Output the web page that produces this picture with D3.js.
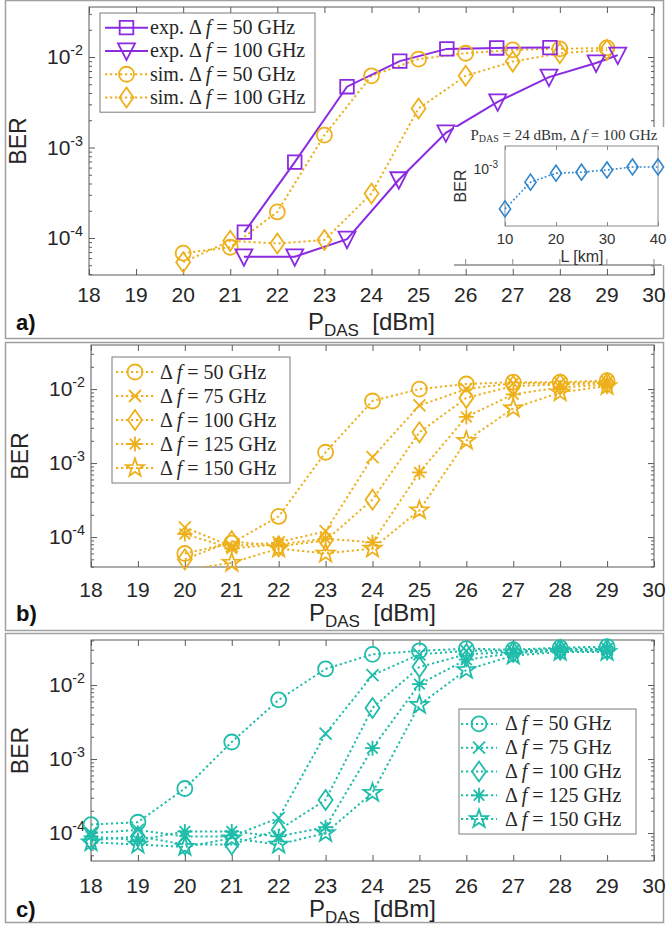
<!DOCTYPE html>
<html><head><meta charset="utf-8">
<script src="https://cdn.jsdelivr.net/npm/d3@7"></script>
<style>body{margin:0;background:#fff}svg{display:block}</style>
</head><body><div id="chart"></div>
<script>
// ---------------- DATA ----------------
const pdasTicks = [18,19,20,21,22,23,24,25,26,27,28,29,30];
const berMajorTicks = [1e-4, 1e-3, 1e-2];
const berTickExp = ["-4", "-3", "-2"];

// panel a
const aExp50X  = [21.3, 22.37, 23.48, 24.6, 25.6, 26.66, 27.79];
const aExp50Y  = [1.16e-4, 6.9e-4, 4.7e-3, 9.0e-3, 1.23e-2, 1.26e-2, 1.27e-2];
const aExp100X = [21.29, 22.37, 23.48, 24.58, 25.58, 26.68, 27.77, 28.77, 29.23];
const aExp100Y = [6.2e-5, 6.2e-5, 9.7e-5, 4.4e-4, 1.45e-3, 3.2e-3, 6.0e-3, 8.6e-3, 1.05e-2];
const aSimX    = [20, 21, 22, 23, 24, 25, 26, 27, 28, 29];
const aSim50Y  = [6.8e-5, 7.9e-5, 1.94e-4, 1.37e-3, 6.2e-3, 9.5e-3, 1.1e-2, 1.2e-2, 1.23e-2, 1.26e-2];
const aSim100Y = [5.4e-5, 9.3e-5, 8.7e-5, 9.5e-5, 3.1e-4, 2.7e-3, 6.2e-3, 8.9e-3, 1.1e-2, 1.2e-2];
const aLegendPre  = ["exp. Δ", "exp. Δ", "sim. Δ", "sim. Δ"];
const aLegendPost = [" = 50 GHz", " = 100 GHz", " = 50 GHz", " = 100 GHz"];

// inset
const insetL   = [10, 15, 20, 25, 30, 35, 40];
const insetBER = [4.0e-4, 7.4e-4, 9.1e-4, 9.3e-4, 9.8e-4, 1.05e-3, 1.05e-3];
const insetXTicks = [10, 20, 30, 40];

// panel b
const bX    = [20, 21, 22, 23, 24, 25, 26, 27, 28, 29];
const b50   = [6.0e-5, 8.3e-5, 1.9e-4, 1.4e-3, 6.9e-3, 1.0e-2, 1.17e-2, 1.24e-2, 1.24e-2, 1.3e-2];
const b75   = [1.35e-4, 7.5e-5, 8.5e-5, 1.2e-4, 1.2e-3, 6.0e-3, 1.0e-2, 1.2e-2, 1.2e-2, 1.25e-2];
const b100  = [5.0e-5, 8.8e-5, 7.5e-5, 9.0e-5, 3.2e-4, 2.6e-3, 7.6e-3, 1.1e-2, 1.15e-2, 1.2e-2];
const b125  = [1.1e-4, 7.0e-5, 8.0e-5, 9.5e-5, 8.5e-5, 7.5e-4, 4.2e-3, 8.5e-3, 1.05e-2, 1.15e-2];
const b150  = [3.6e-5, 4.5e-5, 7.0e-5, 6.0e-5, 7.0e-5, 2.3e-4, 2.0e-3, 5.5e-3, 9.0e-3, 1.1e-2];

// panel c
const cX    = [18, 19, 20, 21, 22, 23, 24, 25, 26, 27, 28, 29];
const c50   = [1.3e-4, 1.4e-4, 4.0e-4, 1.7e-3, 6.3e-3, 1.65e-2, 2.6e-2, 2.9e-2, 3.1e-2, 3.0e-2, 3.2e-2, 3.3e-2];
const c75   = [1.0e-4, 1.1e-4, 9.0e-5, 9.0e-5, 1.6e-4, 2.2e-3, 1.36e-2, 2.6e-2, 2.9e-2, 2.9e-2, 3.1e-2, 3.1e-2];
const c100  = [8.0e-5, 9.0e-5, 7.0e-5, 7.0e-5, 1.1e-4, 2.8e-4, 4.9e-3, 1.75e-2, 2.6e-2, 2.8e-2, 3.0e-2, 3.0e-2];
const c125  = [9.0e-5, 8.0e-5, 1.05e-4, 1.05e-4, 9.0e-5, 1.2e-4, 1.4e-3, 1.03e-2, 2.2e-2, 2.7e-2, 2.9e-2, 2.9e-2];
const c150  = [7.5e-5, 7.0e-5, 6.5e-5, 8.5e-5, 7.0e-5, 1.0e-4, 3.5e-4, 5.4e-3, 1.6e-2, 2.5e-2, 2.8e-2, 2.8e-2];

const dfLegend = ["50", "75", "100", "125", "150"];
const dfMarkers = ["circle", "cross", "diamond", "asterisk", "star"];

// ---------------- STYLE ----------------
const PURPLE = "#8a2be2", ORANGE = "#eeb01a", TEAL = "#1fbcaa", BLUE = "#2f86cc";
const AXIS = "#5a5a5a", FRAME = "#a0a0a0", TXT = "#262626";
const SANS = "'Liberation Sans', Arial, Helvetica, sans-serif";
const SERIF = "'Liberation Serif', 'Times New Roman', serif";
const DOTS = "2.2,2.8";

const W = 668, H = 931;
const svg = d3.select("#chart").append("svg").attr("width", W).attr("height", H)
  .style("font-family", SANS);
svg.append("rect").attr("width", W).attr("height", H).attr("fill", "#fff");

function markerPath(type, k = 1) {
  switch (type) {
    case "circle": { const r = 7.5 * k; return `M${r},0A${r},${r} 0 1,1 ${-r},0A${r},${r} 0 1,1 ${r},0Z`; }
    case "square": { const s = 6.8 * k; return `M${-s},${-s}H${s}V${s}H${-s}Z`; }
    case "triDown": { const s = 8.5 * k; return `M${-s},${-7.5*k}H${s}L0,${9*k}Z`; }
    case "diamond": { const a = 7 * k, b = 10 * k; return `M0,${-b}L${a},0L0,${b}L${-a},0Z`; }
    case "cross": { const s = 6 * k; return `M${-s},${-s}L${s},${s}M${-s},${s}L${s},${-s}`; }
    case "asterisk": { const s = 7.5 * k, d = s * 0.707; return `M${-s},0H${s}M0,${-s}V${s}M${-d},${-d}L${d},${d}M${-d},${d}L${d},${-d}`; }
    case "star": {
      const R = 9.5 * k, r = 3.8 * k; let p = "";
      for (let i = 0; i < 10; i++) {
        const ang = -Math.PI / 2 + i * Math.PI / 5, rr = i % 2 ? r : R;
        p += (i ? "L" : "M") + (rr * Math.cos(ang)).toFixed(2) + "," + (rr * Math.sin(ang)).toFixed(2);
      }
      return p + "Z";
    }
  }
}

function drawSeries(P, xs, ys, color, marker, dashed, lw = 2) {
  const { x, y } = P;
  const pts = xs.map((v, i) => [v, ys[i]]);
  const line = d3.line().x(d => x(d[0])).y(d => y(d[1]));
  P.lines.append("path").attr("d", line(pts)).attr("fill", "none").attr("stroke", color)
    .attr("stroke-width", lw).attr("stroke-dasharray", dashed ? DOTS : null);
  const dom = y.domain();
  P.marks.selectAll(null).data(pts.filter(d => d[1] >= dom[0] && d[1] <= dom[1])).enter().append("path")
    .attr("d", markerPath(marker)).attr("transform", d => `translate(${x(d[0])},${y(d[1])})`)
    .attr("fill", "none").attr("stroke", color).attr("stroke-width", 1.8);
}

function yTickLabel(g, xPos, yPos, exp, size = 21) {
  const t = g.append("text").attr("x", xPos).attr("y", yPos + 7).attr("text-anchor", "end")
    .attr("fill", TXT).attr("font-size", size);
  t.append("tspan").text("10");
  t.append("tspan").attr("dy", -9).attr("font-size", size * 0.68).text(exp);
}

function pdasLabel(g, cx, baseline) {
  const t = g.append("text").attr("x", cx).attr("y", baseline).attr("text-anchor", "middle")
    .attr("fill", TXT).attr("font-size", 24).style("white-space", "pre");
  t.append("tspan").text("P");
  t.append("tspan").attr("dy", 6).attr("font-size", 17).text("DAS");
  t.append("tspan").attr("dy", -6).text("  [dBm]");
}

let clipId = 0;
function makePanel(cfg) {
  const g = svg.append("g");
  g.append("rect").attr("x", 5.5).attr("y", cfg.frameTop + 0.5).attr("width", 658)
    .attr("height", cfg.frameBottom - cfg.frameTop).attr("fill", "#fff")
    .attr("stroke", FRAME).attr("stroke-width", 1.5);
  const x = d3.scaleLinear().domain([18, 30]).range([cfg.left, cfg.right]);
  const y = d3.scaleLog().domain(cfg.yDomain).range([cfg.bottom, cfg.top]);

  const minor = [];
  for (let e = -5; e <= -1; e++) for (let m = 2; m <= 9; m++) {
    const v = m * Math.pow(10, e);
    if (v > cfg.yDomain[0] && v < cfg.yDomain[1]) minor.push(v);
  }
  const ax = g.append("g");
  const styleAxis = s => { s.select(".domain").remove(); s.selectAll("line").attr("stroke", AXIS).attr("stroke-width", 1); s.selectAll("text").remove(); };
  ax.append("g").attr("transform", `translate(0,${cfg.bottom})`)
    .call(d3.axisBottom(x).tickValues(pdasTicks).tickSize(-6).tickFormat("")).call(styleAxis);
  ax.append("g").attr("transform", `translate(0,${cfg.top})`)
    .call(d3.axisTop(x).tickValues(pdasTicks).tickSize(-6).tickFormat("")).call(styleAxis);
  ax.append("g").attr("transform", `translate(${cfg.left},0)`)
    .call(d3.axisLeft(y).tickValues(minor).tickSize(-3).tickFormat("")).call(styleAxis);
  ax.append("g").attr("transform", `translate(${cfg.right},0)`)
    .call(d3.axisRight(y).tickValues(minor).tickSize(-3).tickFormat("")).call(styleAxis);
  ax.append("g").attr("transform", `translate(${cfg.left},0)`)
    .call(d3.axisLeft(y).tickValues(berMajorTicks).tickSize(-6).tickFormat("")).call(styleAxis);
  ax.append("g").attr("transform", `translate(${cfg.right},0)`)
    .call(d3.axisRight(y).tickValues(berMajorTicks).tickSize(-6).tickFormat("")).call(styleAxis);
  g.append("rect").attr("x", cfg.left).attr("y", cfg.top).attr("width", cfg.right - cfg.left)
    .attr("height", cfg.bottom - cfg.top).attr("fill", "none").attr("stroke", AXIS).attr("stroke-width", 1);

  pdasTicks.forEach(v => g.append("text").attr("x", x(v)).attr("y", cfg.bottom + cfg.tickOff)
    .attr("text-anchor", "middle").attr("fill", TXT).attr("font-size", 21).text(v));
  berMajorTicks.forEach((v, i) => yTickLabel(g, cfg.left - 6, y(v), berTickExp[i]));
  g.append("text").attr("transform", `translate(${cfg.berX},${(cfg.top + cfg.bottom) / 2}) rotate(-90)`)
    .attr("text-anchor", "middle").attr("fill", TXT).attr("font-size", 23).attr("dy", "0.36em").text("BER");
  pdasLabel(g, (cfg.left + cfg.right) / 2, cfg.bottom + cfg.labelOff);
  g.append("text").attr("x", 16).attr("y", cfg.bottom + cfg.labelOff).attr("fill", "#111")
    .attr("font-size", 22).attr("font-weight", "bold").text(cfg.tag);

  const id = "clip" + (clipId++);
  svg.append("clipPath").attr("id", id).append("rect")
    .attr("x", cfg.left).attr("y", cfg.top).attr("width", cfg.right - cfg.left).attr("height", cfg.bottom - cfg.top);
  const lines = g.append("g").attr("clip-path", `url(#${id})`);
  const marks = g.append("g");
  return { g, x, y, lines, marks };
}

function legend(g, x0, y0, w, rows, color, markers, dashes, pres, posts, lineX0, lineX1, textX, dy) {
  const h = rows * dy + 6;
  g.append("rect").attr("x", x0).attr("y", y0).attr("width", w).attr("height", h)
    .attr("fill", "#fff").attr("stroke", "#7a7a7a").attr("stroke-width", 1);
  for (let i = 0; i < rows; i++) {
    const yy = y0 + 3 + dy * (i + 0.5);
    const c = Array.isArray(color) ? color[i] : color;
    g.append("line").attr("x1", lineX0).attr("x2", lineX1).attr("y1", yy).attr("y2", yy)
      .attr("stroke", c).attr("stroke-width", 2).attr("stroke-dasharray", dashes[i] ? DOTS : null);
    g.append("path").attr("d", markerPath(markers[i])).attr("transform", `translate(${(lineX0 + lineX1) / 2},${yy})`)
      .attr("fill", "none").attr("stroke", c).attr("stroke-width", 1.8);
    const t = g.append("text").attr("x", textX).attr("y", yy + 6.5).attr("fill", TXT)
      .attr("font-family", SERIF).attr("font-size", 20).style("white-space", "pre");
    t.append("tspan").text(pres[i] + " ");
    t.append("tspan").attr("font-style", "italic").text("f");
    t.append("tspan").text(posts[i]);
  }
}

// ---------------- PANEL A ----------------
const A = makePanel({ frameTop: 0, frameBottom: 338, left: 89, right: 654, top: 7, bottom: 275,
  yDomain: [3.9e-5, 3.57e-2], tickOff: 27, labelOff: 55, berX: 18, tag: "a)" });
drawSeries(A, aSimX, aSim100Y, ORANGE, "diamond", true);
drawSeries(A, aSimX, aSim50Y, ORANGE, "circle", true);
drawSeries(A, aExp100X, aExp100Y, PURPLE, "triDown", false);
drawSeries(A, aExp50X, aExp50Y, PURPLE, "square", false);
legend(A.g, 100, 13, 215, 4, [PURPLE, PURPLE, ORANGE, ORANGE], ["square", "triDown", "circle", "diamond"],
  [false, false, true, true], aLegendPre, aLegendPost, 105, 148, 150, 23.3);

// inset
(function () {
  const g = A.g.append("g");
  g.append("rect").attr("x", 454).attr("y", 127).attr("width", 214).attr("height", 138).attr("fill", "#fff");
  g.append("line").attr("x1", 454).attr("x2", 662).attr("y1", 265).attr("y2", 265).attr("stroke", "#8a8a8a").attr("stroke-width", 1.5);
  [26, 27, 28, 29, 30].forEach(v => g.append("line").attr("x1", A.x(v)).attr("x2", A.x(v))
    .attr("y1", 265).attr("y2", 259).attr("stroke", "#8a8a8a"));
  const ix = d3.scaleLinear().domain([10, 40]).range([505, 658]);
  const iy = d3.scaleLog().domain([2.7e-4, 1.7e-3]).range([226, 146]);
  g.append("g").attr("transform", "translate(0,226)")
    .call(d3.axisBottom(ix).tickValues(insetXTicks).tickSize(-4).tickFormat(""))
    .call(s => { s.select(".domain").remove(); s.selectAll("line").attr("stroke", "#888"); });
  g.append("g").attr("transform", "translate(0,146)")
    .call(d3.axisTop(ix).tickValues(insetXTicks).tickSize(-4).tickFormat(""))
    .call(s => { s.select(".domain").remove(); s.selectAll("line").attr("stroke", "#888"); });
  g.append("rect").attr("x", 505).attr("y", 146).attr("width", 153).attr("height", 80)
    .attr("fill", "none").attr("stroke", "#8a8a8a").attr("stroke-width", 1);
  insetXTicks.forEach(v => g.append("text").attr("x", ix(v)).attr("y", 244).attr("text-anchor", "middle")
    .attr("font-size", 15).attr("fill", "#333").text(v));
  g.append("text").attr("x", 582).attr("y", 262).attr("text-anchor", "middle").attr("font-size", 16)
    .attr("fill", "#333").text("L [km]");
  const t = g.append("text").attr("x", 498).attr("y", iy(1e-3) + 5).attr("text-anchor", "end")
    .attr("font-size", 14).attr("fill", "#333");
  t.append("tspan").text("10"); t.append("tspan").attr("dy", -6).attr("font-size", 10).text("-3");
  g.append("text").attr("transform", "translate(466,186) rotate(-90)").attr("text-anchor", "middle")
    .attr("font-size", 16).attr("fill", "#333").text("BER");
  const tt = g.append("text").attr("x", 564).attr("y", 140).attr("text-anchor", "middle")
    .attr("font-family", SERIF).attr("font-size", 15).attr("fill", "#333").style("white-space", "pre");
  tt.append("tspan").text("P"); tt.append("tspan").attr("dy", 2).attr("font-size", 10).text("DAS");
  tt.append("tspan").attr("dy", -2).text(" = 24 dBm, Δ ");
  tt.append("tspan").attr("font-style", "italic").text("f");
  tt.append("tspan").text(" = 100 GHz");
  const pts = insetL.map((v, i) => [v, insetBER[i]]);
  g.append("path").attr("d", d3.line().x(d => ix(d[0])).y(d => iy(d[1]))(pts)).attr("fill", "none")
    .attr("stroke", BLUE).attr("stroke-width", 1.6).attr("stroke-dasharray", "1.8,2.2");
  g.selectAll(null).data(pts).enter().append("path").attr("d", markerPath("diamond", 0.8))
    .attr("transform", d => `translate(${ix(d[0])},${iy(d[1])})`).attr("fill", "none")
    .attr("stroke", BLUE).attr("stroke-width", 1.6);
})();

// ---------------- PANEL B ----------------
const B = makePanel({ frameTop: 342, frameBottom: 630, left: 91, right: 654, top: 345, bottom: 567,
  yDomain: [3.94e-5, 3.94e-2], tickOff: 30, labelOff: 54, berX: 20, tag: "b)" });
[b150, b125, b100, b75, b50].forEach((s, i) => drawSeries(B, bX, s, ORANGE, dfMarkers[4 - i], true));
legend(B.g, 112, 357, 178, 5, ORANGE, dfMarkers, [true, true, true, true, true],
  dfLegend.map(() => "Δ"), dfLegend.map(d => " = " + d + " GHz"), 116, 154, 160, 24);

// ---------------- PANEL C ----------------
const C = makePanel({ frameTop: 633, frameBottom: 922, left: 91, right: 654, top: 640, bottom: 861,
  yDomain: [4.19e-5, 4.06e-2], tickOff: 32, labelOff: 56, berX: 20, tag: "c)" });
[c150, c125, c100, c75, c50].forEach((s, i) => drawSeries(C, cX, s, TEAL, dfMarkers[4 - i], true));
legend(C.g, 459, 709, 177, 5, TEAL, dfMarkers, [true, true, true, true, true],
  dfLegend.map(() => "Δ"), dfLegend.map(d => " = " + d + " GHz"), 461, 497, 505, 23.8);
</script></body></html>
